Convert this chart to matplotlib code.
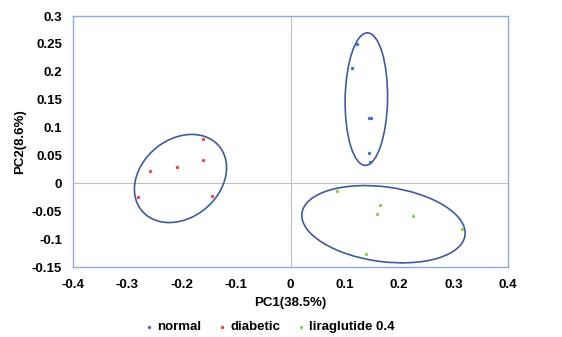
import matplotlib
matplotlib.use("Agg")
import matplotlib.pyplot as plt
from matplotlib.patches import Ellipse

plt.rcParams['font.family'] = ['Liberation Sans', 'DejaVu Sans']
plt.rcParams['font.weight'] = 'bold'

# PCA scores
normal_x = [0.122, 0.113, 0.145, 0.148, 0.145, 0.147]
normal_y = [0.249, 0.206, 0.117, 0.118, 0.054, 0.038]
diabetic_x = [-0.161, -0.161, -0.209, -0.258, -0.281, -0.145]
diabetic_y = [0.079, 0.042, 0.029, 0.022, -0.025, -0.022]
lira_x = [0.086, 0.165, 0.159, 0.225, 0.315, 0.139]
lira_y = [-0.014, -0.039, -0.055, -0.059, -0.081, -0.127]

series_names = ['normal', 'diabetic', 'liraglutide 0.4']
series_colors = ['#4472C4', '#E8474A', '#8FCB55']

# group ellipses: center x, center y, width, height, angle
ellipses = [
    (0.1395, 0.151, 0.078, 0.2376, -1),
    (-0.2023, 0.0087, 0.1834, 0.1415, 37),
    (0.171, -0.0733, 0.3025, 0.134, -7.5),
]

xticks = [-0.4, -0.3, -0.2, -0.1, 0, 0.1, 0.2, 0.3, 0.4]
xticklabels = ['-0.4', '-0.3', '-0.2', '-0.1', '0', '0.1', '0.2', '0.3', '0.4']
yticks = [-0.15, -0.1, -0.05, 0, 0.05, 0.1, 0.15, 0.2, 0.25, 0.3]
yticklabels = ['-0.15', '-0.1', '-0.05', '0', '0.05', '0.1', '0.15', '0.2', '0.25', '0.3']

fs = 9.5

fig = plt.figure(figsize=(5.62, 3.37), dpi=100)
ax = fig.add_axes([73 / 562, 1 - 267 / 337, 435 / 562, 251 / 337])

ax.axhline(0, color='#BFBFBF', lw=0.8, zorder=1)
ax.axvline(0, color='#BFBFBF', lw=0.8, zorder=1)

data = [(normal_x, normal_y), (diabetic_x, diabetic_y), (lira_x, lira_y)]
for (xs, ys), name, c in zip(data, series_names, series_colors):
    ax.scatter(xs, ys, s=6, color=c, label=name, zorder=3, linewidths=0)

for cx, cy, w, h, a in ellipses:
    ax.add_patch(Ellipse((cx, cy), w, h, angle=a, fill=False,
                         edgecolor='#3F5A9E', lw=1.2, zorder=2))

ax.set_xlim(-0.4, 0.4)
ax.set_ylim(-0.15, 0.3)
ax.set_xticks(xticks)
ax.set_xticklabels(xticklabels, fontweight='bold')
ax.set_yticks(yticks)
ax.set_yticklabels(yticklabels, fontweight='bold')
ax.tick_params(axis='x', length=0, labelsize=fs, pad=9)
ax.tick_params(axis='y', length=0, labelsize=fs, pad=8)
for s in ax.spines.values():
    s.set_color('#8EA9DB')
    s.set_linewidth(1)

ax.set_xlabel('PC1(38.5%)', fontsize=fs, fontweight='bold', labelpad=4)
ax.set_ylabel('PC2(8.6%)', fontsize=fs, fontweight='bold', labelpad=4)

fig.legend(loc='center', bbox_to_anchor=(268 / 562, 1 - 327 / 337), ncol=3,
           frameon=False, prop={'size': fs, 'weight': 'bold'},
           handletextpad=0.0, columnspacing=1.0, handlelength=1.2)

fig.savefig('out.png', dpi=100)
